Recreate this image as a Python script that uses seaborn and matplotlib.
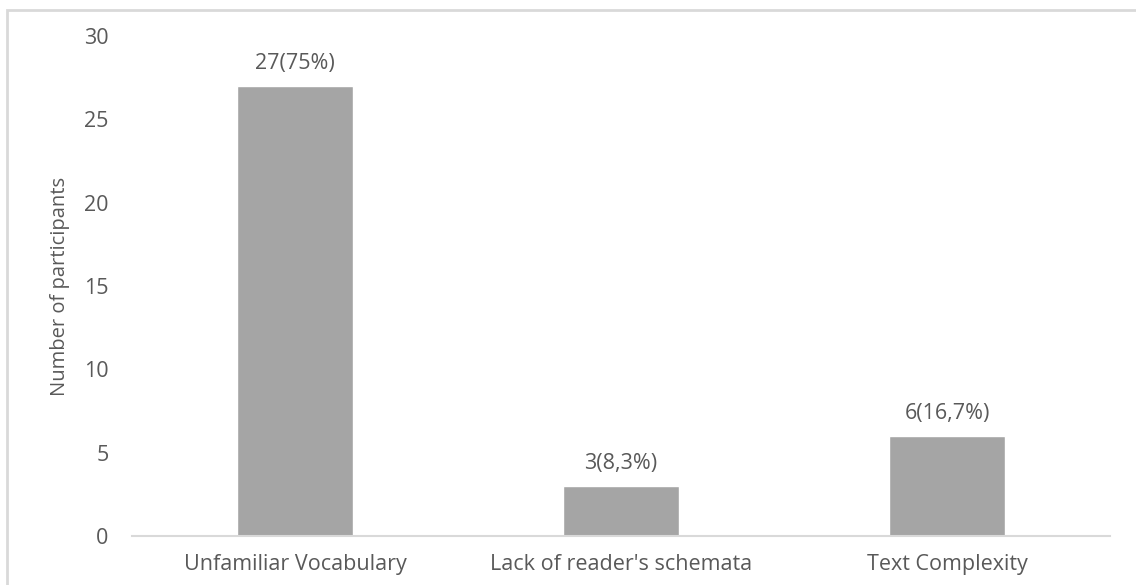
import matplotlib
matplotlib.use("Agg")
import matplotlib.pyplot as plt
import seaborn as sns
import pandas as pd
from matplotlib.patches import Rectangle

# Reading difficulties reported by participants
categories = ["Unfamiliar Vocabulary", "Lack of reader's schemata", "Text Complexity"]
counts = [27, 3, 6]
labels = ["27(75%)", "3(8,3%)", "6(16,7%)"]
y_ticks = [0, 5, 10, 15, 20, 25, 30]

df = pd.DataFrame({"category": categories, "count": counts})

sns.set_theme(style="white")
plt.rcParams["font.family"] = ["Open Sans", "DejaVu Sans"]

text_color = "#595959"
line_color = "#D9D9D9"
bar_color = "#A5A5A5"
fs_num = 15.5
fs_cat = 15.5
fs_title = 14.5

fig = plt.figure(figsize=(11.36, 5.85), dpi=100)
ax = fig.add_axes([132 / 1136, 1 - 536 / 585, (1110 - 132) / 1136, (536 - 36) / 585])

sns.barplot(data=df, x="category", y="count", color=bar_color, width=0.356,
            saturation=1, ax=ax, zorder=2)

ax.set_xlim(-0.5, len(categories) - 0.5)
ax.set_ylim(0, 30)
ax.set_yticks(y_ticks)
ax.set_yticklabels([str(t) for t in y_ticks])
ax.tick_params(axis="both", length=0, colors=text_color)
ax.tick_params(axis="y", pad=17, labelsize=fs_num)
ax.tick_params(axis="x", pad=13, labelsize=fs_cat)

for side in ["left", "right", "top"]:
    ax.spines[side].set_visible(False)
ax.spines["bottom"].set_color(line_color)
ax.spines["bottom"].set_linewidth(1.5)

ax.set_xlabel("")
ax.set_ylabel("Number of participants", color=text_color, fontsize=fs_title)
ax.yaxis.set_label_coords(-62 / 978, 0.5)

for i, (c, lab) in enumerate(zip(counts, labels)):
    ax.annotate(lab, xy=(i, c), xytext=(0, 16), textcoords="offset points",
                ha="center", va="center", color=text_color, fontsize=fs_num)

# outer chart-area frame
fig.patches.append(Rectangle((7 / 1136, -0.05), 1.2, 1 - 10 / 585 + 0.05,
                             transform=fig.transFigure, fill=False,
                             edgecolor=line_color, linewidth=2))

fig.savefig("out.png", dpi=100, facecolor="white")
